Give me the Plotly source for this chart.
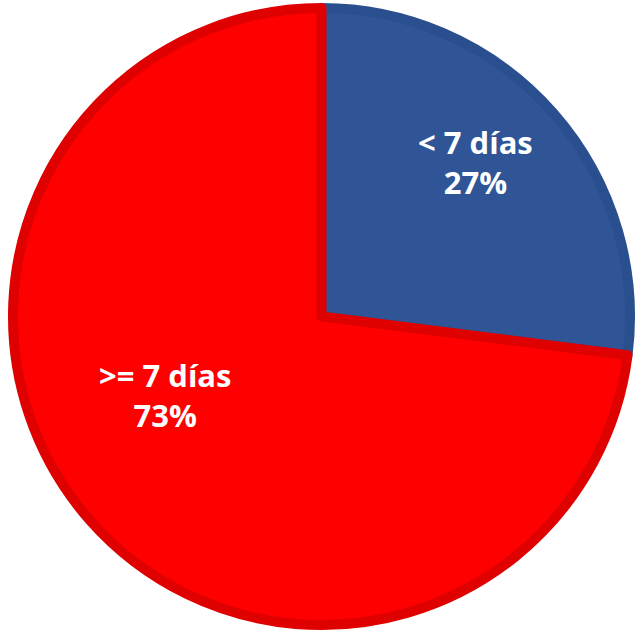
import plotly.graph_objects as go

labels = ["< 7 días", ">= 7 días"]
values = [27, 73]
colors = ["#2F5597", "#FF0000"]
border_colors = ["#2A4F8E", "#DF0000"]

# label anchor positions (paper coords) for each slice
label_x = [475 / 641, 165 / 641]
label_y = [1 - 162 / 634, 1 - 395 / 634]

W, H = 641, 634
cx, cy, R = 321.5, 316.5, 308.5
fig = go.Figure(go.Pie(
    labels=labels,
    values=values,
    sort=False,
    direction="clockwise",
    rotation=0,
    marker=dict(colors=colors, line=dict(color=border_colors, width=10)),
    textinfo="none",
    showlegend=False,
    hoverinfo="skip",
    domain=dict(x=[(cx - R) / W, (cx + R) / W], y=[1 - (cy + R) / H, 1 - (cy - R) / H]),
))

total = sum(values)
for lab, val, lx, ly in zip(labels, values, label_x, label_y):
    fig.add_annotation(
        x=lx, y=ly, xref="paper", yref="paper",
        text=f"<b>{lab}</b><br><b>{round(100 * val / total)}%</b>",
        showarrow=False, xanchor="center", yanchor="middle",
        font=dict(family="Open Sans", size=31, color="white"),
        align="center",
    )

fig.update_layout(
    width=W, height=H,
    margin=dict(l=0, r=0, t=0, b=0),
    paper_bgcolor="white",
    plot_bgcolor="white",
)
fig.write_html("out.html", config={"displayModeBar": False},
               post_script="document.body.style.margin='0';")
